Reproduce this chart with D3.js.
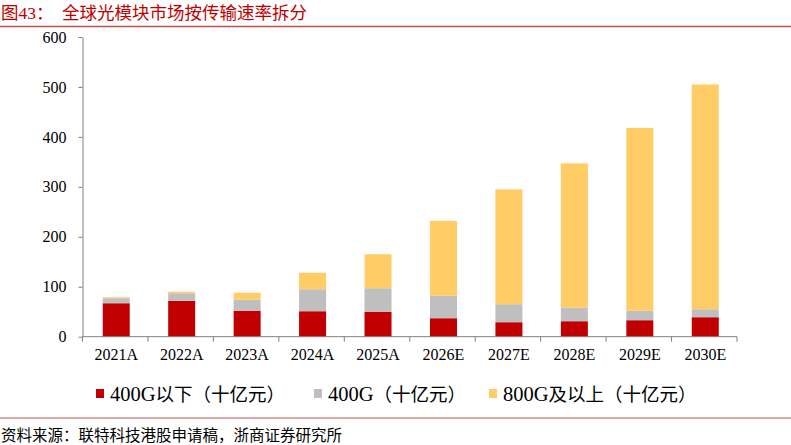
<!DOCTYPE html>
<html><head><meta charset="utf-8">
<script src="https://cdn.jsdelivr.net/npm/d3@7"></script>
<style>
html,body{margin:0;padding:0;background:#fff;}
svg{display:block;font-family:"Liberation Serif","Noto Sans CJK SC",serif;}
</style></head>
<body><svg id="c" width="791" height="445"></svg>
<script>
const categories = ["2021A","2022A","2023A","2024A","2025A","2026E","2027E","2028E","2029E","2030E"];
const below400G = [67,72,52,51,50,37,29,31,33,39];
const g400 = [10,15,22,44,47,45,36,27,19,16];
const g800plus = [2,3,14,33,68,150,230,289,366,450];
const seriesLatin = ["400G","400G","800G"];
const seriesCJK = ["以下（十亿元）","（十亿元）","及以上（十亿元）"];
const seriesColors = ["#C00000","#BFBFBF","#FFCC66"];
const yTicks = [0,100,200,300,400,500,600];
const titleText = "图43：";
const titleMain = "全球光模块市场按传输速率拆分";
const sourceText = "资料来源：联特科技港股申请稿，浙商证券研究所";

(function(){
const svg = d3.select("#c");
const W=791,H=445;
const pL=82.5,pR=737,pT=37,pB=336.7;

// title
svg.append("text").attr("x",1).attr("y",19).attr("fill","#C00000")
  .style("font-size","17.5px").text(titleText);
svg.append("text").attr("x",62).attr("y",19).attr("fill","#C00000")
  .style("font-size","17.5px").style("font-family","'Noto Sans CJK SC',sans-serif").text(titleMain);
svg.append("line").attr("x1",0).attr("x2",W).attr("y1",26.5).attr("y2",26.5)
  .attr("stroke","#C0504D").attr("stroke-width",1.5);

const data = categories.map((c,i)=>({cat:c,s0:below400G[i],s1:g400[i],s2:g800plus[i]}));
const stack = d3.stack().keys(["s0","s1","s2"])(data);

const x = d3.scaleBand().domain(categories).range([pL,pR]).padding(0);
const y = d3.scaleLinear().domain([0,600]).range([pB,pT]);
const bw = 27;

stack.forEach((layer,k)=>{
  svg.append("g").selectAll("rect").data(layer).join("rect")
    .attr("x",d=>x(d.data.cat)+x.bandwidth()/2-bw/2+1)
    .attr("width",bw)
    .attr("y",d=>y(d[1]))
    .attr("height",d=>y(d[0])-y(d[1]))
    .attr("fill",seriesColors[k]);
});

// y axis
const yAxis = d3.axisLeft(y).tickValues(yTicks).tickSize(4).tickPadding(12).tickSizeOuter(0);
const gy = svg.append("g").attr("transform",`translate(${pL},0)`).call(yAxis);
gy.select(".domain").attr("stroke","#7f7f7f");
gy.selectAll(".tick line").attr("stroke","#7f7f7f");
gy.selectAll("text").style("font-size","16px").style("font-family","'Liberation Serif',serif").attr("fill","#000");

// x axis
const xb = d3.scaleLinear().domain([0,categories.length]).range([pL,pR]);
const gx = svg.append("g").attr("transform",`translate(0,${pB})`);
gx.append("line").attr("x1",pL).attr("x2",pR).attr("stroke","#7f7f7f");
gx.selectAll("line.t").data(d3.range(categories.length+1)).join("line").attr("class","t")
  .attr("x1",d=>xb(d)).attr("x2",d=>xb(d)).attr("y1",0).attr("y2",5).attr("stroke","#7f7f7f");
gx.selectAll("text").data(categories).join("text")
  .attr("x",d=>x(d)+x.bandwidth()/2+1).attr("y",23)
  .attr("text-anchor","middle").style("font-size","16px").style("font-family","'Liberation Serif',serif")
  .text(d=>d);

// legend
const legX = [96,314,489];
seriesColors.forEach((c,i)=>{
  svg.append("rect").attr("x",legX[i]).attr("y",389).attr("width",8).attr("height",9).attr("fill",c);
  const t = svg.append("text").attr("x",legX[i]+14).attr("y",401);
  t.append("tspan").style("font-size","20.5px").style("font-family","'Liberation Serif',serif").text(seriesLatin[i]);
  t.append("tspan").style("font-size","18.5px").style("font-family","'Noto Sans CJK SC',sans-serif").text(seriesCJK[i]);
});

svg.append("line").attr("x1",0).attr("x2",W).attr("y1",418).attr("y2",418)
  .attr("stroke","#C0504D").attr("stroke-width",1.2);
svg.append("text").attr("x",1).attr("y",441).style("font-size","15.5px")
  .style("font-family","'Noto Sans CJK SC',sans-serif").text(sourceText);
})();
</script></body></html>
